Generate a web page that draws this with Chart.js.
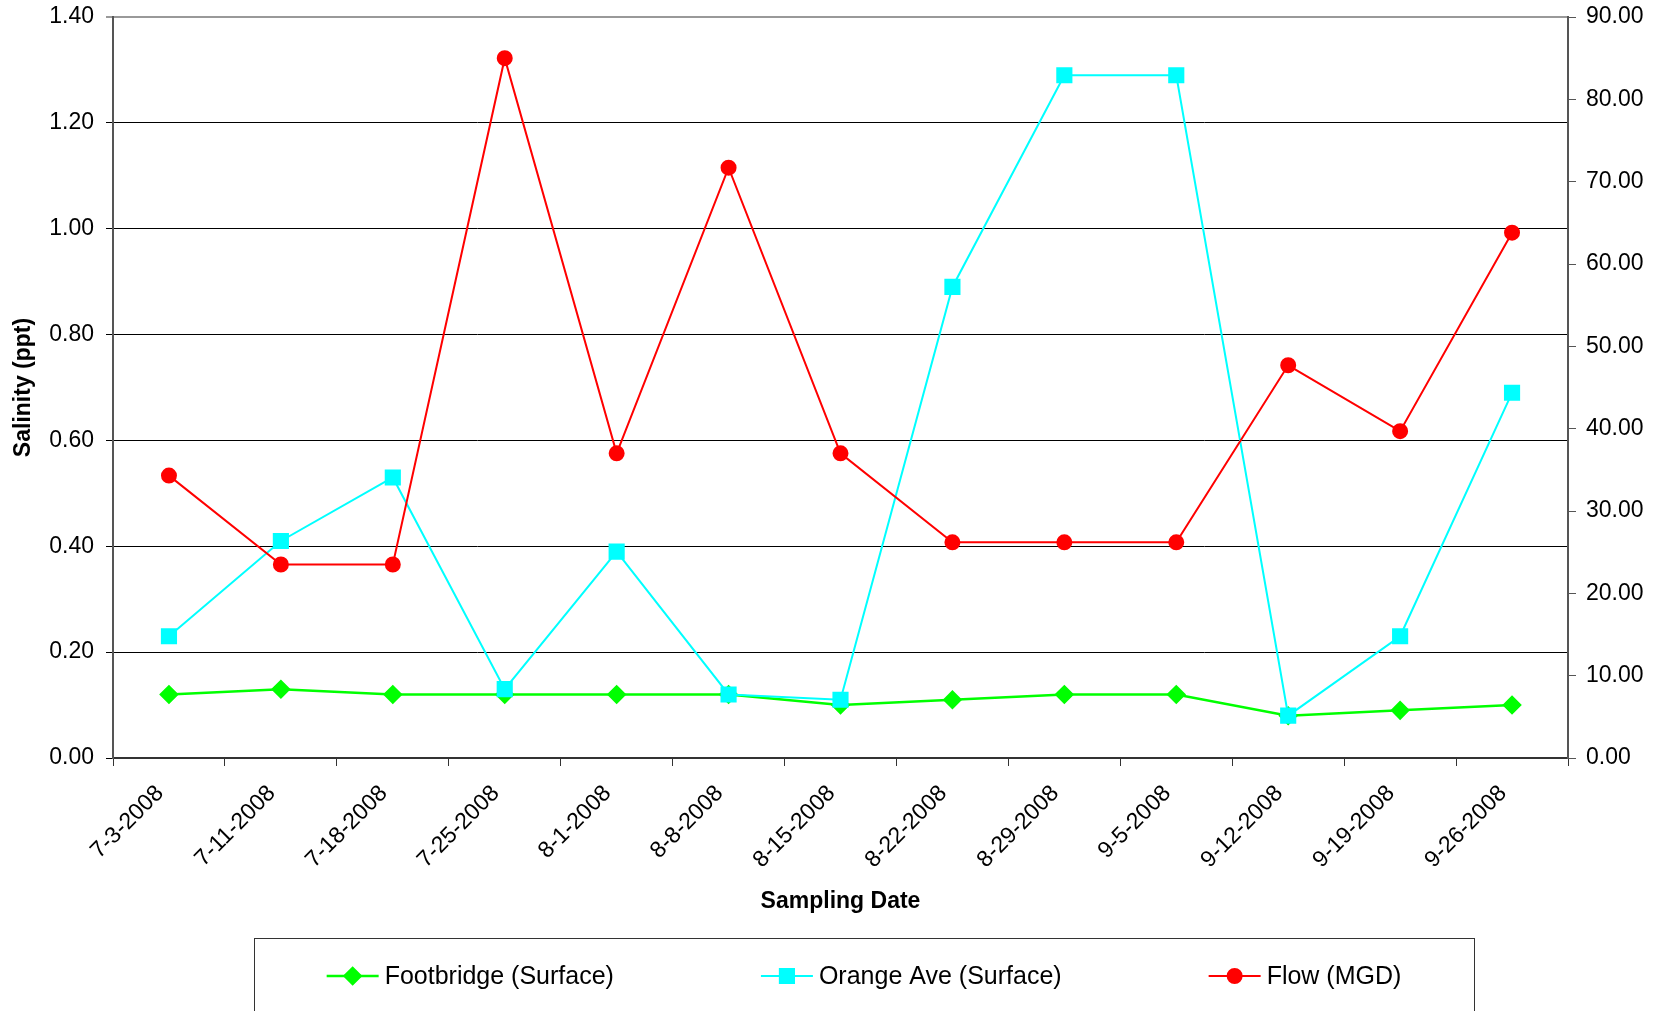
<!DOCTYPE html>
<html>
<head>
<meta charset="utf-8">
<script src="https://cdn.jsdelivr.net/npm/chart.js@4.4.0/dist/chart.umd.min.js"></script>
<style>
  html, body { margin: 0; padding: 0; background: #fff; }
  #wrap { width: 1663px; height: 1011px; position: relative; }
</style>
</head>
<body>
<div id="wrap"><canvas id="salinity-chart"></canvas></div>
<script>
const dates = ['7-3-2008', '7-11-2008', '7-18-2008', '7-25-2008', '8-1-2008', '8-8-2008', '8-15-2008',
    '8-22-2008', '8-29-2008', '9-5-2008', '9-12-2008', '9-19-2008', '9-26-2008'];
const footbridge = [0.12, 0.13, 0.12, 0.12, 0.12, 0.12, 0.10, 0.11, 0.12, 0.12, 0.08, 0.09, 0.10];
const orangeAve = [0.23, 0.41, 0.53, 0.13, 0.39, 0.12, 0.11, 0.89, 1.29, 1.29, 0.08, 0.23, 0.69];
const flow = [34.3, 23.5, 23.5, 85.0, 37.0, 71.7, 37.0, 26.2, 26.2, 26.2, 47.7, 39.7, 63.8];

const FONT = 'Liberation Sans, Arial, Helvetica, sans-serif';

// boxed legend under the x axis title, like the Excel original
const boxLegend = {
    id: 'boxLegend',
    afterDraw(chart) {
        const ctx = chart.ctx;
        const box = {left: 254, right: 1474, top: 938, bottom: 1030};
        const lineLen = 52, gap = 6, spacing = 147, y = 976;

        ctx.save();
        ctx.strokeStyle = '#333';
        ctx.lineWidth = 1;
        ctx.strokeRect(box.left + 0.5, box.top + 0.5, box.right - box.left, box.bottom - box.top);

        ctx.font = '25px ' + FONT;
        ctx.textBaseline = 'middle';
        const items = chart.data.datasets;
        const widths = items.map(d => lineLen + gap + ctx.measureText(d.label).width);
        const total = widths.reduce((a, b) => a + b, 0) + spacing * (items.length - 1);
        let x = (box.left + box.right) / 2 - total / 2;

        items.forEach((d, i) => {
            ctx.strokeStyle = d.borderColor;
            ctx.lineWidth = d.borderWidth;
            ctx.beginPath();
            ctx.moveTo(x, y);
            ctx.lineTo(x + lineLen, y);
            ctx.stroke();
            ctx.fillStyle = d.pointBackgroundColor;
            ctx.strokeStyle = d.pointBorderColor;
            Chart.helpers.drawPoint(ctx, {pointStyle: d.pointStyle, radius: d.pointRadius, rotation: 0, borderWidth: 1},
                x + lineLen / 2, y);
            ctx.fillStyle = '#000';
            ctx.textAlign = 'left';
            ctx.fillText(d.label, x + lineLen + gap, y + 1);
            x += widths[i] + spacing;
        });
        ctx.restore();
    }
};

function noVertPadding(scale) {
    scale.paddingTop = 0;
    scale.paddingBottom = 0;
}

const chart = new Chart(document.getElementById('salinity-chart'), {
    type: 'line',
    data: {
        labels: dates,
        datasets: [
            {
                label: 'Footbridge (Surface)',
                data: footbridge,
                yAxisID: 'y',
                borderColor: '#00FF00',
                backgroundColor: '#00FF00',
                pointBackgroundColor: '#00FF00',
                pointBorderColor: '#00FF00',
                borderWidth: 2.5,
                pointStyle: 'rectRot',
                pointRadius: 8,
                order: 3
            },
            {
                label: 'Orange Ave (Surface)',
                data: orangeAve,
                yAxisID: 'y',
                borderColor: '#00FFFF',
                backgroundColor: '#00FFFF',
                pointBackgroundColor: '#00FFFF',
                pointBorderColor: '#00FFFF',
                borderWidth: 2,
                pointStyle: 'rect',
                pointRadius: 10,
                order: 2
            },
            {
                label: 'Flow (MGD)',
                data: flow,
                yAxisID: 'y1',
                borderColor: '#FF0000',
                backgroundColor: '#FF0000',
                pointBackgroundColor: '#FF0000',
                pointBorderColor: '#FF0000',
                borderWidth: 2,
                pointStyle: 'circle',
                pointRadius: 7,
                order: 1
            }
        ]
    },
    options: {
        responsive: true,
        maintainAspectRatio: false,
        animation: false,
        layout: {padding: {top: 17, bottom: 93, left: 0, right: 0}},
        plugins: {
            legend: {display: false},
            tooltip: {enabled: false}
        },
        elements: {line: {tension: 0}},
        scales: {
            x: {
                offset: true,
                grid: {offset: true, drawOnChartArea: false, color: '#333', tickLength: 8},
                border: {color: '#333', width: 2},
                ticks: {minRotation: 45, maxRotation: 45, color: '#000', font: {family: FONT, size: 23},
                    padding: 14, labelOffset: -9},
                title: {display: true, text: 'Sampling Date', color: '#000',
                    font: {family: FONT, size: 23, weight: 'bold'}, padding: {top: 0, bottom: 3}},
                afterFit(scale) { scale.height = 160; }
            },
            y: {
                position: 'left',
                min: 0,
                max: 1.4,
                ticks: {stepSize: 0.2, color: '#000', padding: 12, font: {family: FONT, size: 23},
                    callback: v => v.toFixed(2)},
                grid: {
                    color: c => (c.tick && Math.abs(c.tick.value - 1.4) < 1e-6) ? '#999' : '#000',
                    lineWidth: c => (c.tick && Math.abs(c.tick.value - 1.4) < 1e-6) ? 2 : 1,
                    tickLength: 7
                },
                border: {color: '#555', width: 2},
                title: {display: true, text: 'Salinity (ppt)', color: '#000',
                    font: {family: FONT, size: 23, weight: 'bold'}, padding: {top: 10, bottom: 0}},
                afterFit(scale) { scale.width = 113; noVertPadding(scale); }
            },
            y1: {
                position: 'right',
                min: 0,
                max: 90,
                ticks: {stepSize: 10, color: '#000', padding: 10, font: {family: FONT, size: 23},
                    callback: v => v.toFixed(2)},
                grid: {drawOnChartArea: false, color: '#555', tickLength: 8},
                border: {color: '#555', width: 2},
                afterFit(scale) { scale.width = 95; noVertPadding(scale); }
            }
        }
    },
    plugins: [boxLegend]
});
</script>
</body>
</html>
